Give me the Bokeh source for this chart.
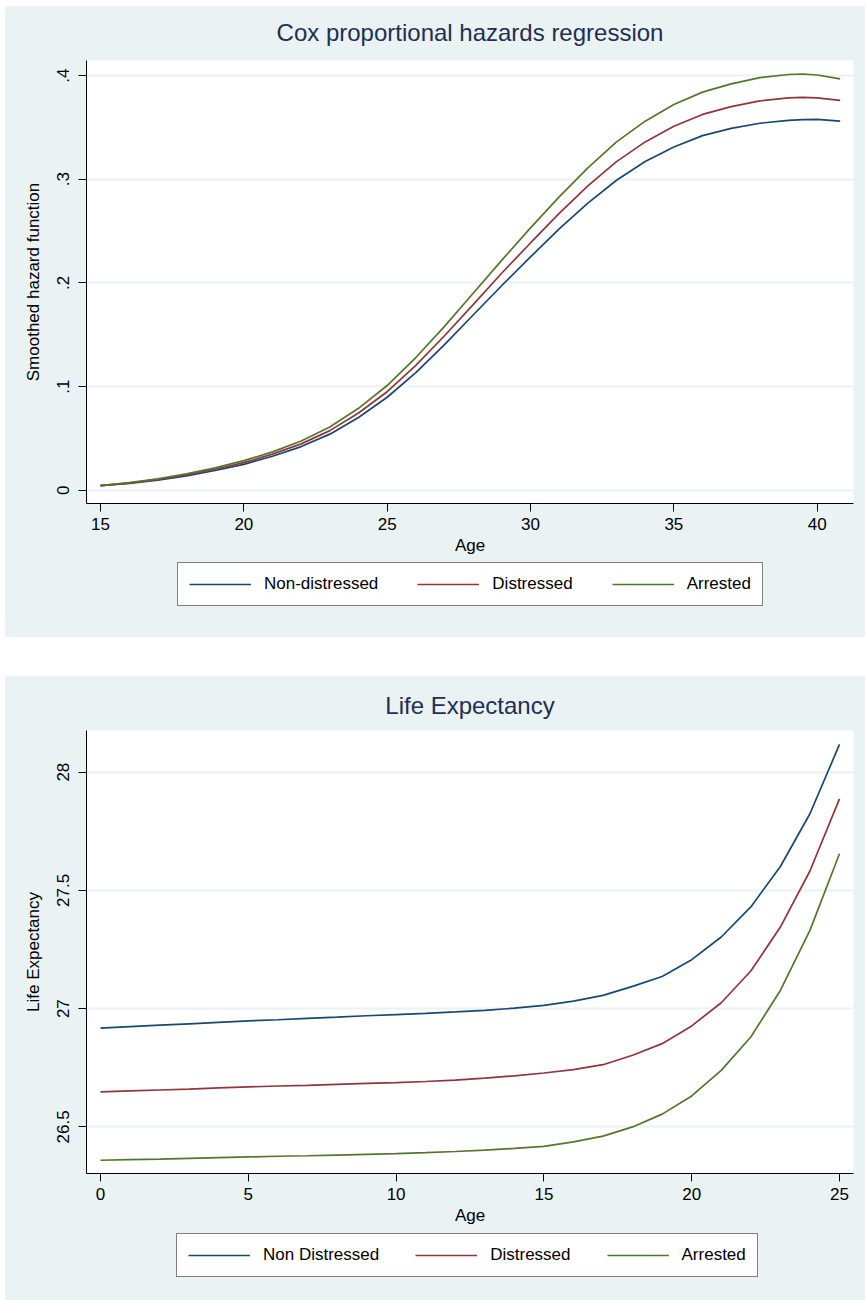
from bokeh.plotting import figure
from bokeh.models import Range1d, FixedTicker, Legend, LegendItem
from bokeh.layouts import column
from bokeh.embed import file_html
from bokeh.resources import INLINE

# ---------------- data ----------------
cox_age = [15, 16, 17, 18, 19, 20, 21, 22, 23, 24, 25, 26, 27, 28, 29, 30,
           31, 32, 33, 34, 35, 36, 37, 38, 39, 39.5, 40, 40.8]
cox_non_distressed = [0.0045, 0.0066, 0.0098, 0.0139, 0.0190, 0.0250, 0.0328, 0.0421,
                      0.0541, 0.0702, 0.0897, 0.1135, 0.1405, 0.1690, 0.1975, 0.2250,
                      0.2520, 0.2770, 0.2990, 0.3170, 0.3310, 0.3420, 0.3490, 0.3540,
                      0.3568, 0.3575, 0.3577, 0.3560]
cox_distressed = [0.0045, 0.0069, 0.0104, 0.0148, 0.0202, 0.0266, 0.0348, 0.0447,
                  0.0575, 0.0745, 0.0950, 0.1205, 0.1490, 0.1790, 0.2095, 0.2385,
                  0.2670, 0.2935, 0.3170, 0.3360, 0.3510, 0.3625, 0.3700, 0.3755,
                  0.3785, 0.3790, 0.3785, 0.3760]
cox_arrested = [0.0045, 0.0073, 0.0110, 0.0157, 0.0215, 0.0285, 0.0370, 0.0475,
                0.0610, 0.0790, 0.1010, 0.1280, 0.1580, 0.1900, 0.2220, 0.2530,
                0.2830, 0.3110, 0.3360, 0.3560, 0.3720, 0.3840, 0.3920, 0.3980,
                0.4010, 0.4015, 0.4005, 0.3968]
cox_labels = ["Non-distressed", "Distressed", "Arrested"]
cox_xticks = [15, 20, 25, 30, 35, 40]
cox_yticks = [0, 0.1, 0.2, 0.3, 0.4]
cox_ytick_labels = ["0", ".1", ".2", ".3", ".4"]

le_age = list(range(26))
le_non_distressed = [26.918, 26.924, 26.930, 26.936, 26.942, 26.948, 26.953, 26.959,
                     26.964, 26.970, 26.975, 26.980, 26.986, 26.993, 27.002, 27.014,
                     27.032, 27.056, 27.094, 27.136, 27.207, 27.303, 27.430, 27.601,
                     27.824, 28.117]
le_distressed = [26.648, 26.652, 26.656, 26.660, 26.665, 26.669, 26.673, 26.676,
                 26.680, 26.684, 26.687, 26.692, 26.698, 26.706, 26.716, 26.728,
                 26.742, 26.763, 26.803, 26.852, 26.927, 27.025, 27.159, 27.345,
                 27.582, 27.887]
le_arrested = [26.359, 26.362, 26.364, 26.367, 26.370, 26.373, 26.376, 26.378,
               26.381, 26.384, 26.387, 26.391, 26.396, 26.402, 26.409, 26.418,
               26.437, 26.461, 26.500, 26.554, 26.631, 26.739, 26.880, 27.077,
               27.331, 27.655]
le_labels = ["Non Distressed", "Distressed", "Arrested"]
le_xticks = [0, 5, 10, 15, 20, 25]
le_yticks = [26.5, 27, 27.5, 28]
le_ytick_labels = ["26.5", "27", "27.5", "28"]

# ---------------- styling ----------------
COLORS = ["#1A476F", "#90353B", "#55752F"]
BG = "#EAF2F3"
FONT = "Liberation Sans"
TITLE_COLOR = "#1E3050"
W = 860
LINE_W = 1.7
BORDER_L = 81
BORDER_R = 12


def make_chart(title, title_standoff, title_valign, xr, yr, xticks, yticks,
               ytick_labels, ylabel, xs, series):
    p = figure(width=W, height=554, output_backend="svg", toolbar_location=None,
               x_range=Range1d(*xr), y_range=Range1d(*yr),
               min_border_left=BORDER_L, min_border_right=BORDER_R,
               min_border_top=54, min_border_bottom=57)
    p.border_fill_color = BG
    p.background_fill_color = "white"
    p.outline_line_color = None

    p.title.text = title
    p.title.align = "center"
    p.title.vertical_align = title_valign
    p.title.text_font = FONT
    p.title.text_font_size = "24px"
    p.title.text_font_style = "normal"
    p.title.text_color = TITLE_COLOR
    p.title.standoff = title_standoff

    p.xgrid.visible = False
    p.ygrid.ticker = FixedTicker(ticks=yticks)
    p.ygrid.grid_line_color = BG
    p.ygrid.grid_line_width = 2

    for ax in (p.xaxis[0], p.yaxis[0]):
        ax.axis_line_color = "black"
        ax.axis_line_width = 1
        ax.major_tick_line_color = "black"
        ax.major_tick_out = 8
        ax.major_tick_in = 0
        ax.minor_tick_line_color = None
        ax.major_label_text_font = FONT
        ax.major_label_text_font_size = "17px"
        ax.major_label_text_color = "black"
        ax.axis_label_text_font = FONT
        ax.axis_label_text_font_size = "17px"
        ax.axis_label_text_font_style = "normal"
        ax.axis_label_text_color = "black"

    p.xaxis.ticker = FixedTicker(ticks=xticks)
    p.xaxis.axis_label = "Age"
    p.xaxis.major_label_standoff = 6
    p.xaxis.axis_label_standoff = 3

    p.yaxis.ticker = FixedTicker(ticks=yticks)
    p.yaxis.major_label_overrides = {t: lab for t, lab in zip(yticks, ytick_labels)}
    p.yaxis.major_label_orientation = "vertical"
    p.yaxis.axis_label = ylabel
    p.yaxis.major_label_standoff = 9
    p.yaxis.axis_label_standoff = 12

    for ys, col in zip(series, COLORS):
        p.line(xs, ys, line_color=col, line_width=LINE_W)
    return p


def make_legend_strip(height, labels, loc, spacing, xs, series):
    # legend strip below the chart; the series are drawn but lie outside this
    # strip's ranges, so only their legend entries show
    q = figure(width=W, height=height, output_backend="svg", toolbar_location=None,
               x_axis_type=None, y_axis_type=None,
               x_range=Range1d(-1000, -999), y_range=Range1d(-1000, -999),
               min_border_left=BORDER_L, min_border_right=BORDER_R,
               min_border_top=0, min_border_bottom=0)
    q.border_fill_color = BG
    q.background_fill_color = BG
    q.outline_line_color = None
    items = []
    for ys, col, lab in zip(series, COLORS, labels):
        r = q.line(xs, ys, line_color=col, line_width=LINE_W)
        items.append(LegendItem(label=lab, renderers=[r]))
    legend = Legend(items=items, orientation="horizontal", location=loc,
                    padding=11, spacing=spacing, label_standoff=13,
                    glyph_width=62, glyph_height=18, label_height=18,
                    border_line_color="black", border_line_width=1,
                    background_fill_color="white", background_fill_alpha=1.0,
                    margin=0,
                    label_text_font=FONT, label_text_font_size="17px",
                    label_text_color="black")
    q.add_layout(legend, "center")
    return q


cox_series = [cox_non_distressed, cox_distressed, cox_arrested]
le_series = [le_non_distressed, le_distressed, le_arrested]

c1 = make_chart("Cox proportional hazards regression", 25, "top",
                (14.512, 41.266), (-0.0128, 0.4145), cox_xticks, cox_yticks,
                cox_ytick_labels, "Smoothed hazard function", cox_age, cox_series)
l1 = make_legend_strip(77, cox_labels, (91, 31), 39, cox_age, cox_series)

c2 = make_chart("Life Expectancy", 23, "bottom",
                (-0.474, 25.474), (26.303, 28.176), le_xticks, le_yticks,
                le_ytick_labels, "Life Expectancy", le_age, le_series)
l2 = make_legend_strip(70, le_labels, (90, 23), 36, le_age, le_series)

panel1 = column(c1, l1, spacing=0, margin=(6, 0, 0, 5),
                styles={"background-color": BG})
panel2 = column(c2, l2, spacing=0, margin=(39, 0, 0, 5),
                styles={"background-color": BG})
layout = column(panel1, panel2, spacing=0)

open("out.html", "w").write(file_html(layout, INLINE))
